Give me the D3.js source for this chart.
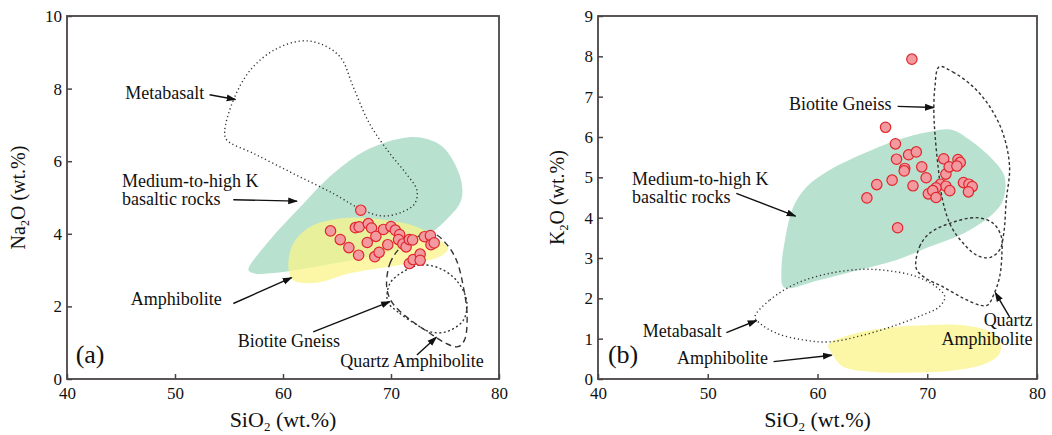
<!DOCTYPE html>
<html>
<head>
<meta charset="utf-8">
<script src="https://cdn.jsdelivr.net/npm/d3@7"></script>
<style>
  body { margin: 0; background: #fff; }
  svg text { font-family: "Liberation Serif", "Times New Roman", serif; fill: #111; }
</style>
</head>
<body>
<svg id="chart" width="1052" height="435"></svg>
<script>
// panel (a): SiO2 vs Na2O
const sio2A = [67.2, 64.4, 65.3, 66.1, 67.0, 66.7, 67.05, 67.9, 68.2, 67.8, 68.6, 68.5, 68.9, 69.3, 70.0, 70.4,
  70.8, 69.7, 70.7, 71.1, 71.4, 71.7, 72.0, 71.7, 72.05, 72.7, 72.7, 73.1, 73.65, 73.7, 74.0];
const na2oA = [4.65, 4.08, 3.84, 3.62, 3.41, 4.17, 4.19, 4.28, 4.16, 3.76, 3.93, 3.37, 3.49, 4.12, 4.20, 4.10,
  3.98, 3.70, 3.84, 3.72, 3.64, 3.84, 3.83, 3.18, 3.29, 3.44, 3.27, 3.92, 3.95, 3.70, 3.75];

// panel (b): SiO2 vs K2O
const sio2B = [68.6, 66.2, 67.1, 67.2, 68.3, 69.0, 67.95, 67.9, 69.5, 69.9, 66.8, 65.4, 64.5, 68.7, 67.3, 71.5,
  71.7, 72.0, 72.8, 73.0, 72.7, 71.2, 71.7, 72.05, 70.8, 70.1, 70.5, 70.8, 73.3, 73.8, 74.1, 73.75];
const k2oB = [7.93, 6.24, 5.83, 5.45, 5.56, 5.63, 5.22, 5.16, 5.26, 4.99, 4.93, 4.82, 4.49, 4.79, 3.75, 5.46,
  5.08, 5.26, 5.44, 5.37, 5.28, 4.83, 4.78, 4.67, 4.74, 4.59, 4.67, 4.50, 4.87, 4.83, 4.77, 4.64];

const xTicks = [40, 50, 60, 70, 80];
const yTicksA = [0, 2, 4, 6, 8, 10];
const yTicksB = [0, 1, 2, 3, 4, 5, 6, 7, 8, 9];

// field outlines, [SiO2, oxide]
const mhkA = [[56.8, 3.0], [58.5, 3.73], [61.6, 4.74], [64.65, 5.66], [67.7, 6.30], [70.8, 6.62], [72.7, 6.65],
  [74.8, 6.39], [76.4, 5.57], [76.5, 4.93], [75.1, 4.38], [72.7, 3.83], [69.3, 3.46], [64.65, 3.18], [60.0, 2.95], [57.3, 2.91]];
const amphA = [[60.5, 3.09], [60.95, 3.73], [62.5, 4.19], [65.3, 4.42], [68.35, 4.42], [72.4, 4.19], [74.5, 3.83],
  [75.3, 3.6], [74.5, 3.37], [70.8, 3.14], [66.2, 2.91], [63.1, 2.65], [60.95, 2.72]];
const metaA = [[54.6, 6.81], [55.4, 7.68], [56.95, 8.5], [59.1, 9.05], [61.6, 9.31], [63.4, 9.24], [65.3, 8.87],
  [66.5, 8.05], [68.0, 7.04], [69.9, 6.21], [71.4, 5.66], [72.4, 5.2], [72.2, 4.83], [71.1, 4.61], [69.3, 4.49],
  [67.4, 4.65], [64.65, 5.11], [60.95, 5.66], [57.3, 6.21], [54.8, 6.58]];
const bgA = [[69.7, 2.13], [70.8, 1.81], [72.4, 1.49], [73.6, 1.30], [75.1, 1.30], [76.7, 1.62], [77.0, 2.17],
  [76.05, 2.72], [74.5, 3.05], [72.7, 3.14], [71.1, 2.95], [69.9, 2.63]];
const qaA = [[69.6, 2.54], [69.9, 3.18], [70.8, 3.6], [72.05, 3.87], [73.9, 4.01], [75.1, 3.73], [76.05, 3.28],
  [76.7, 2.54], [77.05, 1.72], [76.8, 1.07], [76.2, 0.89], [75.1, 0.98], [73.6, 1.26], [71.4, 1.72], [70.05, 2.13]];

const mhkB = [[56.87, 2.29], [56.72, 2.78], [57.03, 3.44], [57.8, 4.27], [59.0, 4.76], [61.1, 5.18], [64.2, 5.59],
  [67.2, 5.92], [70.2, 6.13], [72.2, 6.18], [73.9, 5.92], [76.0, 5.43], [77.05, 5.01], [76.9, 4.43], [76.0, 4.10],
  [73.3, 3.61], [70.2, 3.28], [67.2, 2.95], [62.6, 2.62], [59.6, 2.41], [57.5, 2.25]];
const amphB = [[60.97, 0.84], [62.9, 1.09], [66.0, 1.26], [70.2, 1.34], [73.0, 1.34], [75.4, 1.21], [76.6, 0.97],
  [76.6, 0.64], [75.4, 0.39], [72.65, 0.22], [68.7, 0.16], [64.8, 0.18], [62.3, 0.31], [61.3, 0.64]];
const metaB = [[54.3, 1.54], [55.66, 1.96], [58.1, 2.37], [61.1, 2.62], [64.2, 2.72], [66.6, 2.68], [69.0, 2.54],
  [70.8, 2.29], [71.6, 2.04], [71.1, 1.79], [69.6, 1.59], [67.2, 1.34], [64.2, 1.09], [61.1, 0.92], [58.7, 0.97],
  [56.3, 1.13], [54.75, 1.38]];
const bgB = [[71.08, 7.74], [72.35, 7.61], [74.2, 7.24], [75.7, 6.75], [76.9, 6.09], [77.5, 5.26], [77.2, 4.43],
  [76.97, 3.61], [76.6, 3.20], [75.7, 3.01], [74.5, 3.07], [73.3, 3.36], [72.2, 3.77], [71.4, 4.43], [70.99, 5.26],
  [70.7, 6.09], [70.6, 6.66], [70.7, 7.24]];
const qaB = [[69.0, 2.74], [69.3, 3.28], [70.2, 3.61], [72.05, 3.86], [74.5, 4.0], [76.0, 3.86], [76.75, 3.53],
  [76.8, 3.11], [76.6, 2.54], [76.1, 2.12], [75.5, 1.83], [74.8, 1.83], [73.3, 2.0], [71.4, 2.29], [69.9, 2.49]];

// labels: text lines, anchor position, arrow from -> to (all in data units)
const labelsA = [
  { lines: ["Metabasalt"], x: 45.4, y: 7.72, from: [53.2, 7.83], to: [55.6, 7.70] },
  { lines: ["Medium-to-high K", "basaltic rocks"], x: 45.1, y: 5.29, from: [55.4, 4.94], to: [61.3, 4.90] },
  { lines: ["Amphibolite"], x: 45.9, y: 2.04, from: [55.4, 2.08], to: [60.8, 2.79] },
  { lines: ["Biotite Gneiss"], x: 55.8, y: 0.89, from: [62.8, 1.30], to: [69.9, 2.13] },
  { lines: ["Quartz Amphibolite"], x: 65.3, y: 0.34, from: [72.4, 0.66], to: [74.2, 1.15] }
];
const labelsB = [
  { lines: ["Biotite Gneiss"], x: 57.4, y: 6.68, from: [67.3, 6.76], to: [70.6, 6.73] },
  { lines: ["Medium-to-high K", "basaltic rocks"], x: 43.1, y: 4.81, from: [52.6, 4.6], to: [58.0, 4.04] },
  { lines: ["Metabasalt"], x: 44.07, y: 1.05, from: [51.7, 1.15], to: [54.45, 1.45] },
  { lines: ["Amphibolite"], x: 47.2, y: 0.37, from: [56.0, 0.43], to: [61.3, 0.59] },
  { lines: ["Quartz", "Amphibolite"], x: 79.6, y: 1.31, anchor: "end", from: [77.5, 1.54], to: [76.2, 2.14] }
];

const svg = d3.select('#chart');

svg.append('defs').append('marker')
  .attr('id', 'arrow')
  .attr('viewBox', '0 0 10 10')
  .attr('refX', 9).attr('refY', 5)
  .attr('markerWidth', 7).attr('markerHeight', 7)
  .attr('orient', 'auto')
  .append('path')
  .attr('d', 'M0,1.5 L10,5 L0,8.5 Z')
  .attr('fill', '#111');

const curve = d3.curveCatmullRomClosed.alpha(0.5);

function drawPanel(cfg) {
  const x = d3.scaleLinear().domain([40, 80]).range([cfg.left, cfg.right]);
  const y = d3.scaleLinear().domain([0, cfg.yMax]).range([cfg.bottom, cfg.top]);
  const line = d3.line().x(d => x(d[0])).y(d => y(d[1])).curve(curve);
  const g = svg.append('g');

  g.append('path').attr('d', line(cfg.mhk)).attr('fill', '#b8e2cf');
  g.append('path').attr('d', line(cfg.amph)).attr('fill', '#faf48a').attr('opacity', 0.75);

  g.append('path').attr('d', line(cfg.meta)).attr('fill', 'none')
    .attr('stroke', '#333').attr('stroke-width', 1.4).attr('stroke-dasharray', '1.2,2.8');
  g.append('path').attr('d', line(cfg.bg)).attr('fill', 'none')
    .attr('stroke', '#333').attr('stroke-width', 1.4).attr('stroke-dasharray', cfg.bgDash);
  g.append('path').attr('d', line(cfg.qa)).attr('fill', 'none')
    .attr('stroke', '#333').attr('stroke-width', 1.4).attr('stroke-dasharray', cfg.qaDash);

  // axes with inward ticks
  const xAxis = d3.axisBottom(x).tickValues(xTicks).tickSize(-5).tickPadding(8);
  const yAxis = d3.axisLeft(y).tickValues(cfg.yTicks).tickSize(-5).tickPadding(5);
  const gx = g.append('g').attr('transform', `translate(0, ${cfg.bottom})`).call(xAxis);
  const gy = g.append('g').attr('transform', `translate(${cfg.left}, 0)`).call(yAxis);
  [gx, gy].forEach(a => {
    a.select('.domain').remove();
    a.selectAll('line').attr('stroke', '#4a4446').attr('stroke-width', 1.5);
    a.selectAll('text').attr('font-size', 17).attr('fill', '#111')
      .style('font-family', '"Liberation Serif", serif');
  });

  g.append('rect')
    .attr('x', cfg.left).attr('y', cfg.top)
    .attr('width', cfg.right - cfg.left).attr('height', cfg.bottom - cfg.top)
    .attr('fill', 'none').attr('stroke', '#4a4446').attr('stroke-width', 1.8);

  // labels and arrows
  cfg.labels.forEach(l => {
    const t = g.append('text')
      .attr('x', x(l.x)).attr('y', y(l.y))
      .attr('font-size', 18)
      .attr('text-anchor', l.anchor || 'start');
    l.lines.forEach((s, i) => {
      t.append('tspan').attr('x', x(l.x)).attr('dy', i === 0 ? 0 : 18.5).text(s);
    });
    g.append('line')
      .attr('x1', x(l.from[0])).attr('y1', y(l.from[1]))
      .attr('x2', x(l.to[0])).attr('y2', y(l.to[1]))
      .attr('stroke', '#111').attr('stroke-width', 1.4)
      .attr('marker-end', 'url(#arrow)');
  });

  // samples
  g.selectAll('circle.dot')
    .data(cfg.xs.map((v, i) => [v, cfg.ys[i]]))
    .enter()
    .append('circle')
    .attr('class', 'dot')
    .attr('cx', d => x(d[0]))
    .attr('cy', d => y(d[1]))
    .attr('r', 5.2)
    .attr('fill', '#f29aa0')
    .attr('stroke', '#e0262c')
    .attr('stroke-width', 1.2);

  g.append('text')
    .attr('x', x(cfg.tagX)).attr('y', y(cfg.tagY))
    .attr('font-size', 26).text(cfg.tag);

  // axis titles
  const xt = g.append('text')
    .attr('x', (cfg.left + cfg.right) / 2).attr('y', 427)
    .attr('text-anchor', 'middle').attr('font-size', 22);
  xt.append('tspan').text('SiO');
  xt.append('tspan').attr('font-size', 13).attr('dy', 4).text('2');
  xt.append('tspan').attr('dy', -4).text(' (wt.%)');

  const yt = g.append('text')
    .attr('transform', `translate(${cfg.titleX}, ${(cfg.top + cfg.bottom) / 2}) rotate(-90)`)
    .attr('text-anchor', 'middle').attr('dy', '0.35em').attr('font-size', 20);
  yt.append('tspan').text(cfg.oxide[0]);
  yt.append('tspan').attr('font-size', 12).attr('dy', 4).text('2');
  yt.append('tspan').attr('dy', -4).text('O (wt.%)');
}

drawPanel({
  left: 67, right: 499, top: 16, bottom: 379, yMax: 10, yTicks: yTicksA,
  xs: sio2A, ys: na2oA, mhk: mhkA, amph: amphA, meta: metaA, bg: bgA, qa: qaA,
  bgDash: '2,2.5', qaDash: '6,4', labels: labelsA,
  tag: '(a)', tagX: 40.8, tagY: 0.43, titleX: 18, oxide: ['Na']
});

drawPanel({
  left: 598, right: 1037, top: 16, bottom: 379, yMax: 9, yTicks: yTicksB,
  xs: sio2B, ys: k2oB, mhk: mhkB, amph: amphB, meta: metaB, bg: bgB, qa: qaB,
  bgDash: '3,2.5', qaDash: '3,2.5', labels: labelsB,
  tag: '(b)', tagX: 40.9, tagY: 0.39, titleX: 557, oxide: ['K']
});
</script>
</body>
</html>
